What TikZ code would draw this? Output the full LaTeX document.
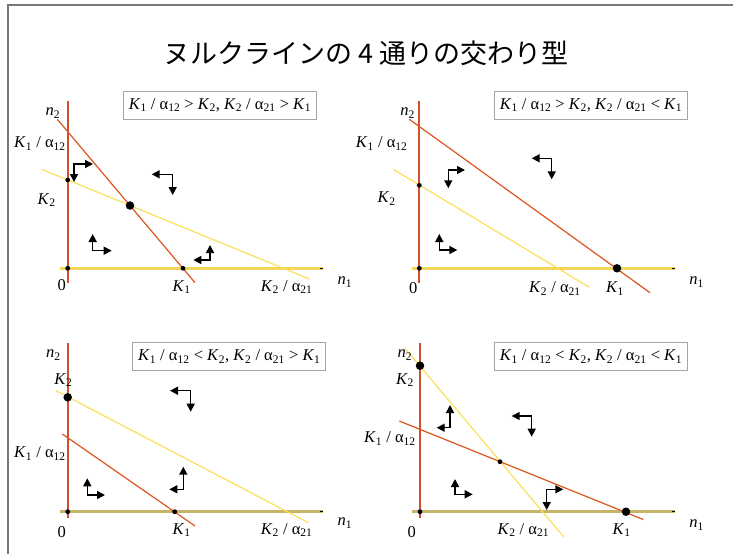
\documentclass[tikz,border=0pt]{standalone}
\usepackage{fontspec}
\setmainfont{Liberation Serif}
\newfontfamily\jpfont{Noto Sans CJK JP}
\usetikzlibrary{arrows.meta}
\definecolor{redline}{RGB}{222,84,30}
\definecolor{yelline}{RGB}{250,224,90}
\definecolor{axisred}{RGB}{205,82,42}
\definecolor{axisyel}{RGB}{244,214,90}
\definecolor{axisolive}{RGB}{200,180,104}
\definecolor{framegray}{RGB}{120,120,120}
\definecolor{boxgray}{RGB}{165,165,165}
\newcommand{\KK}[1]{\textit{K}\textsubscript{#1}}
\newcommand{\alp}[1]{α\textsubscript{#1}}
\newcommand{\nn}[1]{\textit{n}\textsubscript{#1}}
\newcommand{\turn}[4]{%
  \coordinate (#1-s) at (#2); \coordinate (#1-c) at (#3); \coordinate (#1-e) at (#4);
  \draw[flow] (#1-s) -- (#1-c) -- (#1-e);}
\tikzset{
  lbl/.style={font=\fontsize{16.5}{19}\selectfont, inner sep=0pt},
  cond/.style={draw=boxgray, line width=0.8pt, minimum width=193pt, minimum height=28pt,
    inner sep=2pt, font=\fontsize{16.5}{19}\selectfont},
  flow/.style={{Triangle[length=8pt,width=8pt]}-{Triangle[length=8pt,width=8pt]}, line width=1.5pt},
  ncred/.style={redline, line width=1.2pt},
  ncyel/.style={yelline, line width=1.2pt},
  axv/.style={axisred, line width=2pt},
  axh/.style={line width=2.6pt},
  sdot/.style={circle, fill=black, inner sep=0pt, minimum size=4.8pt},
  bdot/.style={circle, fill=black, inner sep=0pt, minimum size=8.5pt}
}
\begin{document}
\begin{tikzpicture}[x=1pt,y=-1pt]
\useasboundingbox (0,0) rectangle (733,554);
\draw[framegray, line width=2pt] (8,554) -- (8,5) -- (733,5);
\node (title) at (366,53) {\jpfont\fontsize{27}{30}\selectfont ヌルクラインの 4 通りの交わり型};
% K1/a12 > K2, K2/a21 > K1
\node[cond] (boxa) at (220,105) {\KK1 / \alp{12} > \KK2, \KK2 / \alp{21} > \KK1};
\coordinate (a-hl) at (60,268.3); \coordinate (a-hr) at (323.3,268.3);
\coordinate (a-vt) at (67.7,100.7); \coordinate (a-vb) at (67.7,283);
\draw[axh, axisyel] (a-hl) -- (a-hr);
\draw[line width=1pt] (320.3,268.3) -- (a-hr);
\draw[axv] (a-vt) -- (a-vb);
\coordinate (a-r1) at (57.3,119.3); \coordinate (a-r2) at (195,282.7);
\coordinate (a-y1) at (41.7,169.3); \coordinate (a-y2) at (310,279.3);
\draw[ncyel] (a-y1) -- (a-y2);
\draw[ncred] (a-r1) -- (a-r2);
\node[sdot] (a-k2) at (67.7,180) {};
\node[sdot] (a-o) at (67.7,268.3) {};
\node[sdot] (a-k1) at (183,268.3) {};
\node[bdot] (a-eq) at (130,205.5) {};
\node[lbl] (a-n2) at (53,113) {\nn2};
\node[lbl] (a-n1) at (345,282) {\nn1};
\node[lbl] (a-0) at (61.7,285) {0};
\node[lbl] (a-lk1a) at (40,143.3) {\KK1 / \alp{12}};
\node[lbl] (a-lk2) at (46.7,200) {\KK2};
\node[lbl] (a-lk1) at (181.7,287) {\KK1};
\node[lbl] (a-lk2a) at (286.7,287) {\KK2 / \alp{21}};
\turn{a1}{93,164}{74,164}{74,182}
\turn{a2}{151.7,174.3}{172.7,174.3}{172.7,195}
\turn{a3}{92.7,234}{92.7,250.7}{111.7,250.7}
\turn{a4}{210,245}{210,260}{193.3,260}
% K1/a12 > K2, K2/a21 < K1
\node[cond] (boxb) at (591,105) {\KK1 / \alp{12} > \KK2, \KK2 / \alp{21} < \KK1};
\coordinate (b-hl) at (411.7,268.3); \coordinate (b-hr) at (675,268.3);
\coordinate (b-vt) at (419.3,100.7); \coordinate (b-vb) at (419.3,283);
\draw[axh, axisyel] (b-hl) -- (b-hr);
\draw[line width=1pt] (672,268.3) -- (b-hr);
\draw[axv] (b-vt) -- (b-vb);
\coordinate (b-r1) at (409.3,119.3); \coordinate (b-r2) at (650,292.7);
\coordinate (b-y1) at (393.3,169.3); \coordinate (b-y2) at (589.3,287.3);
\draw[ncyel] (b-y1) -- (b-y2);
\draw[ncred] (b-r1) -- (b-r2);
\node[sdot] (b-k2) at (419.3,185.3) {};
\node[sdot] (b-o) at (419.3,268.3) {};
\node[bdot] (b-k1) at (617,268.3) {};
\node[lbl] (b-n2) at (407.7,113) {\nn2};
\node[lbl] (b-n1) at (696.7,282) {\nn1};
\node[lbl] (b-0) at (413.3,288) {0};
\node[lbl] (b-lk1a) at (381.7,143.3) {\KK1 / \alp{12}};
\node[lbl] (b-lk2) at (386.7,198.3) {\KK2};
\node[lbl] (b-lk2a) at (555,288.3) {\KK2 / \alp{21}};
\node[lbl] (b-lk1) at (615,288.3) {\KK1};
\turn{b1}{465,170}{448.3,170}{448.3,188.3}
\turn{b2}{531.7,158.3}{551.7,158.3}{551.7,179.3}
\turn{b3}{439.3,234}{439.3,250}{457.3,250}
% K1/a12 < K2, K2/a21 > K1
\node[cond] (boxc) at (229.3,356.3) {\KK1 / \alp{12} < \KK2, \KK2 / \alp{21} > \KK1};
\coordinate (c-hl) at (60,511.7); \coordinate (c-hr) at (323.3,511.7);
\coordinate (c-vt) at (67.7,343.3); \coordinate (c-vb) at (67.7,518.3);
\draw[axh, axisolive] (c-hl) -- (c-hr);
\draw[line width=1pt] (320.3,511.7) -- (c-hr);
\draw[axv] (c-vt) -- (c-vb);
\coordinate (c-y1) at (56,390.7); \coordinate (c-y2) at (308.3,522.7);
\coordinate (c-r1) at (62.3,434); \coordinate (c-r2) at (195,526);
\draw[ncyel] (c-y1) -- (c-y2);
\draw[ncred] (c-r1) -- (c-r2);
\node[bdot] (c-k2) at (67.7,397.3) {};
\node[sdot] (c-o) at (67.7,511.7) {};
\node[sdot] (c-k1) at (174.7,511.7) {};
\node[lbl] (c-n2) at (53.3,355) {\nn2};
\node[lbl] (c-n1) at (345,523.3) {\nn1};
\node[lbl] (c-0) at (61.7,531.7) {0};
\node[lbl] (c-lk2) at (63.3,380) {\KK2};
\node[lbl] (c-lk1a) at (40,453.3) {\KK1 / \alp{12}};
\node[lbl] (c-lk1) at (181.7,530) {\KK1};
\node[lbl] (c-lk2a) at (286.7,530) {\KK2 / \alp{21}};
\turn{c1}{170,390.7}{190.7,390.7}{190.7,411.7}
\turn{c2}{183.3,466.7}{183.3,489.3}{169.3,489.3}
\turn{c3}{87.3,478.3}{87.3,495}{105,495}
% K1/a12 < K2, K2/a21 < K1
\node[cond] (boxd) at (591,356.3) {\KK1 / \alp{12} < \KK2, \KK2 / \alp{21} < \KK1};
\coordinate (d-hl) at (411.7,511.7); \coordinate (d-hr) at (675,511.7);
\coordinate (d-vt) at (420,343.3); \coordinate (d-vb) at (420,518.3);
\draw[axh, axisolive] (d-hl) -- (d-hr);
\draw[line width=1pt] (672,511.7) -- (d-hr);
\draw[axv] (d-vt) -- (d-vb);
\coordinate (d-y1) at (405,348.3); \coordinate (d-y2) at (564,537.3);
\coordinate (d-r1) at (399.3,421); \coordinate (d-r2) at (643.3,519.5);
\draw[ncyel] (d-y1) -- (d-y2);
\draw[ncred] (d-r1) -- (d-r2);
\node[bdot] (d-k2) at (420,365.7) {};
\node[sdot] (d-eq) at (500,461.7) {};
\node[sdot] (d-o) at (420,511.7) {};
\node[bdot] (d-k1) at (626,511.7) {};
\node[lbl] (d-n2) at (405,355) {\nn2};
\node[lbl] (d-lk2) at (405,380) {\KK2};
\node[lbl] (d-lk1a) at (390,438.3) {\KK1 / \alp{12}};
\node[lbl] (d-0) at (411.7,531.7) {0};
\node[lbl] (d-lk2a) at (523.3,530) {\KK2 / \alp{21}};
\node[lbl] (d-lk1) at (621.7,530) {\KK1};
\node[lbl] (d-n1) at (696.7,525) {\nn1};
\turn{d1}{450,405}{450,427.7}{436.7,427.7}
\turn{d2}{511.7,416}{531.7,416}{531.7,436.7}
\turn{d3}{455,479}{455,494.3}{472.7,494.3}
\turn{d4}{563.3,489.3}{546.7,489.3}{546.7,510}
\end{tikzpicture}
\end{document}
